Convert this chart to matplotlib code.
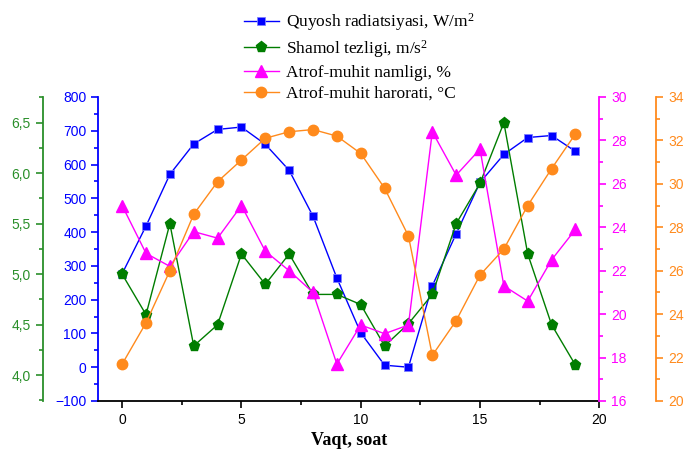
import matplotlib
matplotlib.use("Agg")
import matplotlib.pyplot as plt
from matplotlib.ticker import MultipleLocator, FuncFormatter

# Hourly measurements
hours = list(range(20))
radiation = [277, 418, 571, 661, 704, 711, 660, 583, 447, 264,
             102, 6, 0, 241, 395, 547, 630, 680, 686, 639]
wind = [5.0, 4.6, 5.5, 4.29, 4.5, 5.2, 4.9, 5.2, 4.8, 4.8,
        4.7, 4.29, 4.51, 4.8, 5.5, 5.9, 6.5, 5.2, 4.5, 4.1]
humidity = [25.0, 22.8, 22.2, 23.8, 23.5, 25.0, 22.9, 22.0, 21.0, 17.7,
            19.5, 19.1, 19.5, 28.4, 26.4, 27.6, 21.3, 20.6, 22.5, 23.9]
temperature = [21.7, 23.6, 26.0, 28.6, 30.1, 31.1, 32.1, 32.4, 32.5, 32.2,
               31.4, 29.8, 27.6, 22.1, 23.7, 25.8, 27.0, 29.0, 30.7, 32.3]

labels = ['Quyosh radiatsiyasi, W/m$^2$', 'Shamol tezligi, m/s$^2$',
          'Atrof-muhit namligi, %', 'Atrof-muhit harorati, \u00b0C']

c_blue, c_green, c_mag, c_orange = '#0000ff', '#007d00', '#ff00ff', '#ff8a1c'
c_green_ax = '#2a8f2a'

plt.rcParams['font.family'] = 'Liberation Sans'
plt.rcParams['font.size'] = 9
plt.rcParams['mathtext.fontset'] = 'custom'
plt.rcParams['mathtext.rm'] = 'Liberation Serif'
plt.rcParams['mathtext.it'] = 'Liberation Serif:italic'

fig = plt.figure(figsize=(6.84, 4.54), dpi=100)
ax = fig.add_axes([98.3 / 684, 1 - 401 / 454, (599.3 - 98.3) / 684, (401 - 97) / 454])

ax_w = ax.twinx()
ax_h = ax.twinx()
ax_t = ax.twinx()

l1, = ax.plot(hours, radiation, '-s', color=c_blue, lw=1, ms=6, mec='#8080ff', mew=0.6)
l2, = ax_w.plot(hours, wind, '-p', color=c_green, lw=1, ms=8, mec=c_green)
l3, = ax_h.plot(hours, humidity, '-^', color=c_mag, lw=1, ms=8, mec=c_mag)
l4, = ax_t.plot(hours, temperature, '-o', color=c_orange, lw=1, ms=7.5, mec=c_orange)

ax.set_xlim(-1, 20)
ax.set_ylim(-100, 800)
ax_w.set_ylim(3.745, 6.754)
ax_h.set_ylim(16, 30)
ax_t.set_ylim(20, 34)

# main axis: blue left, black bottom
for s in ['top', 'right']:
    ax.spines[s].set_visible(False)
ax.spines['left'].set_color(c_blue)
ax.spines['left'].set_linewidth(1.3)
ax.spines['bottom'].set_linewidth(1.3)
ax.xaxis.set_major_locator(MultipleLocator(5))
ax.xaxis.set_minor_locator(MultipleLocator(2.5))
ax.yaxis.set_major_locator(MultipleLocator(100))
ax.yaxis.set_minor_locator(MultipleLocator(50))
ax.tick_params(axis='y', which='both', colors=c_blue, labelcolor=c_blue, width=1.2)
ax.tick_params(axis='x', which='both', width=1.2)
ax.tick_params(which='major', length=5)
ax.tick_params(which='minor', length=3)
ax.tick_params(labelsize=10)
ax.set_xlabel('Vaqt, soat', family='Liberation Serif', fontweight='bold', fontsize=13)

# wind axis: green, outer left
for s in ax_w.spines.values():
    s.set_visible(False)
ax_w.spines['left'].set_visible(True)
ax_w.spines['left'].set_position(('outward', 40))
ax_w.spines['left'].set_color(c_green_ax)
ax_w.spines['left'].set_linewidth(1.3)
ax_w.yaxis.set_ticks_position('left')
ax_w.yaxis.set_label_position('left')
ax_w.yaxis.set_major_locator(MultipleLocator(0.5))
ax_w.yaxis.set_minor_locator(MultipleLocator(0.25))
ax_w.yaxis.set_major_formatter(FuncFormatter(lambda v, p: f'{v:.1f}'.replace('.', ',')))
ax_w.tick_params(axis='y', which='both', colors=c_green_ax, width=1.2, labelsize=10)
ax_w.tick_params(which='major', length=5)
ax_w.tick_params(which='minor', length=3)

# humidity axis: magenta right
for s in ax_h.spines.values():
    s.set_visible(False)
ax_h.spines['right'].set_visible(True)
ax_h.spines['right'].set_color(c_mag)
ax_h.spines['right'].set_linewidth(1.3)
ax_h.yaxis.set_major_locator(MultipleLocator(2))
ax_h.yaxis.set_minor_locator(MultipleLocator(1))
ax_h.tick_params(axis='y', which='both', colors=c_mag, width=1.2, labelsize=10)
ax_h.tick_params(which='major', length=5)
ax_h.tick_params(which='minor', length=3)

# temperature axis: orange outer right
for s in ax_t.spines.values():
    s.set_visible(False)
ax_t.spines['right'].set_visible(True)
ax_t.spines['right'].set_position(('outward', 41))
ax_t.spines['right'].set_color(c_orange)
ax_t.spines['right'].set_linewidth(1.3)
ax_t.yaxis.set_major_locator(MultipleLocator(2))
ax_t.yaxis.set_minor_locator(MultipleLocator(1))
ax_t.tick_params(axis='y', which='both', colors=c_orange, width=1.2, labelsize=10)
ax_t.tick_params(which='major', length=5)
ax_t.tick_params(which='minor', length=3)

fig.legend([l1, l2, l3, l4], labels, loc='upper left',
           bbox_to_anchor=(244 / 684, 1 - 11 / 454), frameon=False,
           prop={'family': 'Liberation Serif', 'size': 12.5},
           handlelength=2.0, handletextpad=0.4, labelspacing=0.28, borderpad=0.0,
           borderaxespad=0.0)

fig.savefig('out.png', dpi=100)
